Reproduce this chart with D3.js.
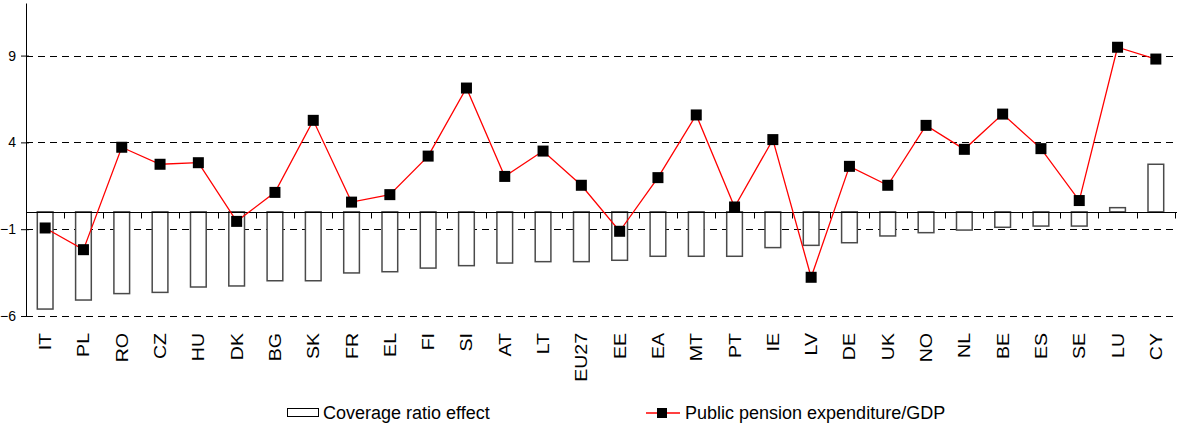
<!DOCTYPE html>
<html>
<head>
<meta charset="utf-8">
<script src="https://cdn.jsdelivr.net/npm/d3@7"></script>
<style>
    body { margin: 0; background: #fff; }
    svg { font-family: "Liberation Sans", Arial, sans-serif; }
</style>
</head>
<body>
<div id="chart"></div>
<script>
var countries = ["IT", "PL", "RO", "CZ", "HU", "DK", "BG", "SK", "FR", "EL",
    "FI", "SI", "AT", "LT", "EU27", "EE", "EA", "MT", "PT", "IE",
    "LV", "DE", "UK", "NO", "NL", "BE", "ES", "SE", "LU", "CY"];

// Coverage ratio effect (bars)
var coverage = [-5.6, -5.08, -4.71, -4.64, -4.33, -4.27, -3.97, -3.97, -3.52, -3.45,
    -3.24, -3.1, -2.95, -2.87, -2.87, -2.79, -2.56, -2.56, -2.56, -2.06,
    -1.93, -1.78, -1.39, -1.2, -1.05, -0.89, -0.82, -0.82, 0.24, 2.74];

// Public pension expenditure/GDP (line)
var pension = [-0.93, -2.18, 3.72, 2.74, 2.83, -0.55, 1.12, 5.27, 0.56, 0.99,
    3.21, 7.13, 2.04, 3.5, 1.53, -1.12, 1.97, 5.58, 0.28, 4.16,
    -3.77, 2.62, 1.53, 4.98, 3.6, 5.63, 3.64, 0.65, 9.48, 8.8];

var yTicks = [-6, -1, 4, 9];

var width = 1177, height = 423;
var plotLeft = 26, plotRight = 1175, plotTop = 3.5, plotBottom = 316;

var svg = d3.select("#chart").append("svg")
    .attr("width", width)
    .attr("height", height);

var x = d3.scaleBand().domain(countries).range([plotLeft, plotRight]);
var y = d3.scaleLinear().domain([-6, 12]).range([plotBottom, plotTop]);

// dashed gridlines
svg.append("g")
    .selectAll("line")
    .data(yTicks)
    .enter().append("line")
    .attr("x1", plotLeft)
    .attr("x2", width)
    .attr("y1", function(d) { return Math.round(y(d)) + 0.5; })
    .attr("y2", function(d) { return Math.round(y(d)) + 0.5; })
    .attr("stroke", "#000")
    .attr("stroke-width", 1)
    .attr("stroke-dasharray", "7,5");

// bars
var barW = x.bandwidth() * 0.41;
svg.append("g")
    .selectAll("rect")
    .data(coverage)
    .enter().append("rect")
    .attr("x", function(d, i) { return x(countries[i]) + (x.bandwidth() - barW) / 2; })
    .attr("width", barW)
    .attr("y", function(d) { return y(Math.max(0, d)); })
    .attr("height", function(d) { return Math.abs(y(d) - y(0)); })
    .attr("fill", "#fff")
    .attr("stroke", "#4a4a4a")
    .attr("stroke-width", 1.5);

// y axis
var yAxis = svg.append("g")
    .attr("transform", "translate(" + plotLeft + ",0)")
    .call(d3.axisLeft(y).tickValues(yTicks).tickSize(5).tickPadding(5));
yAxis.select(".domain").remove();
yAxis.selectAll(".tick text")
    .style("font-size", "14px")
    .style("font-family", "Liberation Sans, Arial, sans-serif")
    .attr("fill", "#000");
yAxis.selectAll(".tick line").attr("x2", -5).attr("x1", 3);
svg.append("line")
    .attr("x1", plotLeft + 0.5).attr("x2", plotLeft + 0.5)
    .attr("y1", plotTop).attr("y2", plotBottom + 0.5)
    .attr("stroke", "#000");

// zero line with category ticks
var zeroY = Math.round(y(0)) + 0.5;
svg.append("line")
    .attr("x1", plotLeft).attr("x2", width)
    .attr("y1", zeroY).attr("y2", zeroY)
    .attr("stroke", "#000");
svg.append("g")
    .selectAll("line")
    .data(countries)
    .enter().append("line")
    .attr("x1", function(d) { return Math.round(x(d) + x.bandwidth()) + 0.5; })
    .attr("x2", function(d) { return Math.round(x(d) + x.bandwidth()) + 0.5; })
    .attr("y1", zeroY)
    .attr("y2", zeroY + 6)
    .attr("stroke", "#000");

// category labels
svg.append("g")
    .selectAll("text")
    .data(countries)
    .enter().append("text")
    .attr("transform", function(d) {
        return "translate(" + (x(d) + x.bandwidth() / 2 + 6) + ",333) rotate(-90) scale(1.15,1)";
    })
    .style("text-anchor", "end")
    .style("font-size", "17px")
    .text(function(d) { return d; });

// line
var line = d3.line()
    .x(function(d, i) { return x(countries[i]) + x.bandwidth() / 2; })
    .y(function(d) { return y(d); });

svg.append("path")
    .datum(pension)
    .attr("fill", "none")
    .attr("stroke", "#ff0000")
    .attr("stroke-width", 1.3)
    .attr("d", line);

var mk = 11;
svg.append("g")
    .selectAll("rect")
    .data(pension)
    .enter().append("rect")
    .attr("x", function(d, i) { return x(countries[i]) + x.bandwidth() / 2 - mk / 2; })
    .attr("y", function(d) { return y(d) - mk / 2; })
    .attr("width", mk)
    .attr("height", mk)
    .attr("fill", "#000");

// legend
var legend = svg.append("g");
legend.append("rect")
    .attr("x", 287.5).attr("y", 408.5)
    .attr("width", 31).attr("height", 8)
    .attr("fill", "#fff")
    .attr("stroke", "#000");
legend.append("text")
    .attr("x", 323).attr("y", 419)
    .style("font-size", "18px")
    .text("Coverage ratio effect");
legend.append("line")
    .attr("x1", 646).attr("x2", 680)
    .attr("y1", 413).attr("y2", 413)
    .attr("stroke", "#ff0000")
    .attr("stroke-width", 1.3);
legend.append("rect")
    .attr("x", 657).attr("y", 408)
    .attr("width", 10).attr("height", 10)
    .attr("fill", "#000");
legend.append("text")
    .attr("x", 685).attr("y", 419)
    .style("font-size", "18px")
    .text("Public pension expenditure/GDP");
</script>
</body>
</html>
